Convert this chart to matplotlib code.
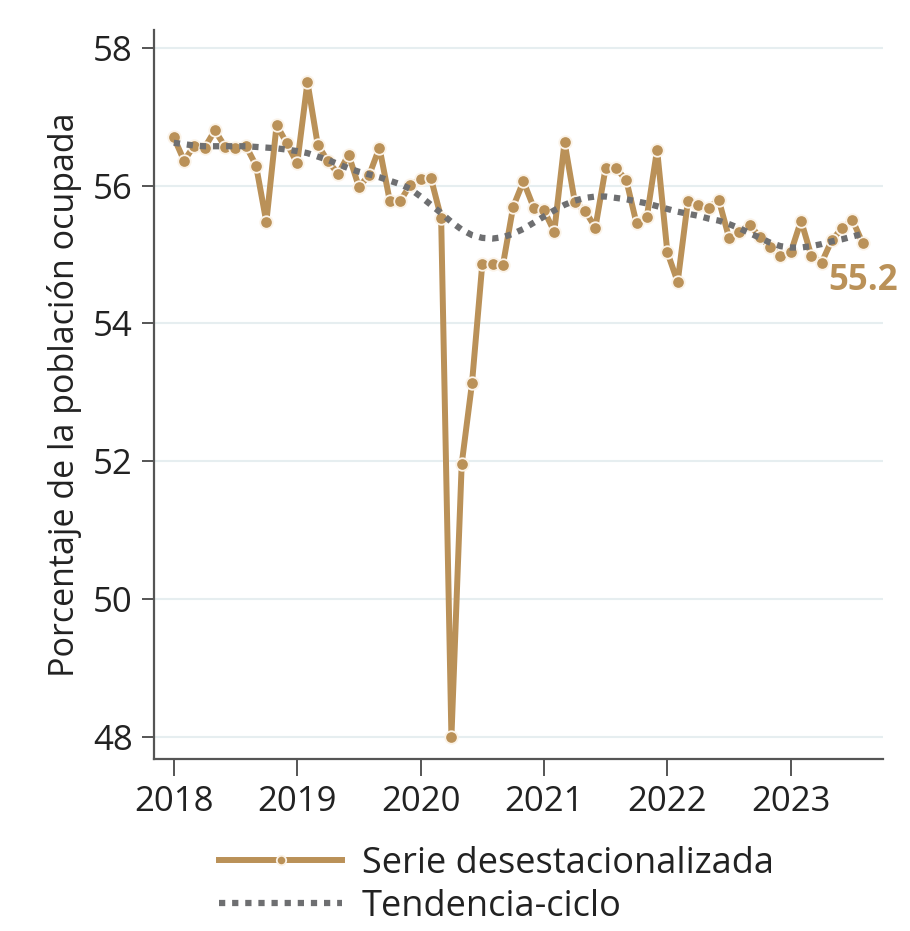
import numpy as np
import matplotlib
matplotlib.use("Agg")
import matplotlib.pyplot as plt

plt.rcParams["font.family"] = ["Open Sans", "DejaVu Sans"]

# monthly values, Jan 2018 - Aug 2023
start_year = 2018
serie = [
    56.70, 56.36, 56.58, 56.55, 56.80, 56.56, 56.55, 56.58, 56.29, 55.47, 56.88, 56.61,
    56.32, 57.50, 56.59, 56.35, 56.17, 56.45, 55.98, 56.15, 56.55, 55.78, 55.77, 56.01,
    56.09, 56.11, 55.53, 48.00, 51.96, 53.13, 54.86, 54.86, 54.84, 55.69, 56.06, 55.68,
    55.64, 55.33, 56.63, 55.76, 55.63, 55.39, 56.26, 56.25, 56.08, 55.45, 55.54, 56.52,
    55.03, 54.60, 55.78, 55.71, 55.68, 55.79, 55.24, 55.33, 55.43, 55.25, 55.11, 54.97,
    55.03, 55.49, 54.98, 54.88, 55.21, 55.38, 55.50, 55.16,
]
tendencia = [
    56.62, 56.60, 56.58, 56.57, 56.57, 56.57, 56.57, 56.57, 56.56, 56.55, 56.54, 56.52,
    56.50, 56.47, 56.42, 56.37, 56.31, 56.25, 56.20, 56.16, 56.12, 56.07, 56.02, 55.95,
    55.84, 55.72, 55.60, 55.47, 55.36, 55.28, 55.24, 55.23, 55.25, 55.30, 55.37, 55.46,
    55.55, 55.64, 55.72, 55.78, 55.82, 55.84, 55.84, 55.82, 55.80, 55.77, 55.74, 55.70,
    55.66, 55.62, 55.59, 55.56, 55.52, 55.49, 55.44, 55.38, 55.31, 55.24, 55.17, 55.12,
    55.10, 55.10, 55.12, 55.15, 55.19, 55.22, 55.26, 55.30,
]
year_ticks = [2018, 2019, 2020, 2021, 2022, 2023]
y_ticks = [48, 50, 52, 54, 56, 58]

x = start_year + np.arange(len(serie)) / 12

TAN = "#BA9158"
GRAY = "#6E6F71"
TXT = "#222222"

fig = plt.figure(figsize=(9.1, 9.31), dpi=100)
ax = fig.add_axes([0.169, 0.185, 0.801, 0.783])

ax.plot(x, serie, color=TAN, lw=4.3, marker="o", ms=9, mfc=TAN,
        mec="#FBF3E8", mew=1.3, label="Serie desestacionalizada", zorder=3)
ax.plot(x, tendencia, color=GRAY, lw=4.5, linestyle=(0, (1, 1.1)),
        label="Tendencia-ciclo", zorder=4)

ax.annotate(f"{serie[-1]:.1f}", xy=(x[-1], serie[-1]), xytext=(0, -27),
            textcoords="offset points", ha="center", va="center",
            fontsize=25, fontweight="bold", color=TAN)

ax.set_xlim(2017.838, 2023.745)
ax.set_ylim(47.68, 58.26)
ax.set_xticks(year_ticks)
ax.set_xticklabels([str(t) for t in year_ticks])
ax.set_yticks(y_ticks)
ax.grid(axis="y", color="#E6EEF0", lw=1.5)
ax.set_axisbelow(True)
for side in ["top", "right"]:
    ax.spines[side].set_visible(False)
for side in ["left", "bottom"]:
    ax.spines[side].set_color("#555555")
    ax.spines[side].set_linewidth(1.6)
ax.tick_params(axis="y", length=9, width=1.4, color="#555555", pad=6,
               labelsize=25, labelcolor=TXT)
ax.tick_params(axis="x", length=12, width=1.4, color="#555555", pad=7,
               labelsize=25, labelcolor=TXT)
ax.set_ylabel("Porcentaje de la población ocupada", fontsize=24.5, color=TXT, labelpad=8)

leg = ax.legend(loc="upper left", bbox_to_anchor=(0.07, -0.1), frameon=False,
                fontsize=26, handlelength=3.4, handletextpad=0.55,
                labelspacing=0.18, markerscale=0.75, labelcolor=TXT,
                borderaxespad=0)

fig.savefig("out.png", dpi=100)
